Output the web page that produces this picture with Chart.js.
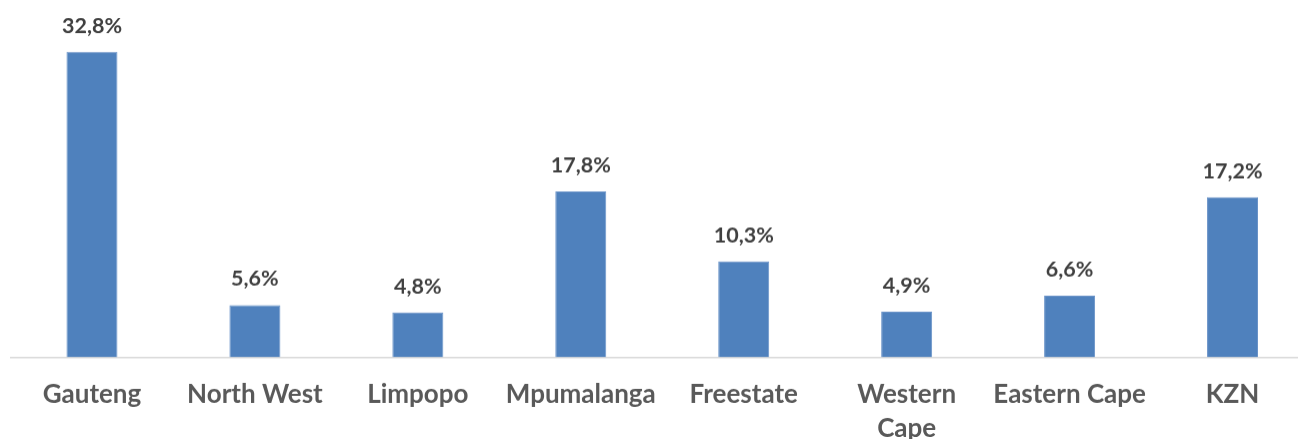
<!DOCTYPE html>
<html>
<head>
<meta charset="utf-8">
<script src="https://cdn.jsdelivr.net/npm/chart.js@4"></script>
<style>
  html, body { margin: 0; padding: 0; background: #fff; overflow: hidden; }
  #wrap { width: 1314px; height: 456.5px; position: relative; }
</style>
</head>
<body>
<div id="wrap"><canvas id="chart"></canvas></div>
<script>
const provinces = ['Gauteng', 'North West', 'Limpopo', 'Mpumalanga', 'Freestate', ['Western', 'Cape'], 'Eastern Cape', 'KZN'];
const shares = [32.8, 5.6, 4.8, 17.8, 10.3, 4.9, 6.6, 17.2];

// draw the value above each bar, Excel style "32,8%"
const valueLabels = {
  id: 'valueLabels',
  afterDatasetsDraw(chart) {
    const ctx = chart.ctx;
    const meta = chart.getDatasetMeta(0);
    ctx.save();
    ctx.font = 'bold 21.5px Lato';
    ctx.fillStyle = '#404040';
    ctx.textAlign = 'center';
    ctx.textBaseline = 'middle';
    meta.data.forEach((bar, i) => {
      ctx.fillText(shares[i].toFixed(1).replace('.', ',') + '%', bar.x, bar.y - 26);
    });
    ctx.restore();
  }
};

new Chart(document.getElementById('chart'), {
  type: 'bar',
  data: {
    labels: provinces,
    datasets: [{
      data: shares,
      backgroundColor: '#4F81BD',
      borderColor: '#6A93C8',
      borderWidth: 1,
      categoryPercentage: 1,
      barPercentage: 0.313
    }]
  },
  options: {
    responsive: true,
    maintainAspectRatio: false,
    animation: false,
    layout: { padding: { left: 10.5, right: 0, top: 3.5, bottom: 0 } },
    plugins: {
      legend: { display: false },
      tooltip: { enabled: false }
    },
    scales: {
      x: {
        grid: { display: false },
        border: { display: true, color: '#D9D9D9', width: 1.5 },
        ticks: {
          color: '#595959',
          font: { family: 'Lato', weight: 'bold', size: 26, lineHeight: 1.31 },
          padding: 12,
          maxRotation: 0,
          autoSkip: false
        }
      },
      y: {
        display: false,
        min: 0,
        max: 38
      }
    }
  },
  plugins: [valueLabels]
});
</script>
</body>
</html>
